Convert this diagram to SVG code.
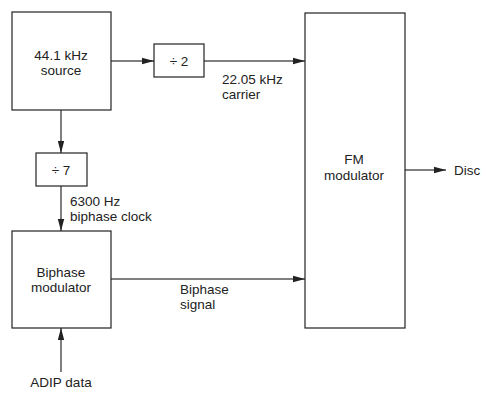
<svg xmlns="http://www.w3.org/2000/svg" width="486" height="400" viewBox="0 0 486 400">
<style>
.box{fill:#fff;stroke:#222;stroke-width:1.2}
.t{font-family:"Liberation Sans",Arial,sans-serif;font-size:13.5px;fill:#222}
.c{text-anchor:middle}
.ln{stroke:#555;stroke-width:1.5;fill:none;marker-end:url(#ah)}
</style>
<defs>
<marker id="ah" markerWidth="12" markerHeight="8" refX="12" refY="4" orient="auto" markerUnits="userSpaceOnUse">
<path d="M0,0.8 L12,4 L0,7.2 z" fill="#222"/>
</marker>
</defs>
<rect width="486" height="400" fill="#fff"/>
<g id="connectors">
<line class="ln" x1="111" y1="61" x2="154" y2="61"/>
<line class="ln" x1="204" y1="61" x2="305" y2="61"/>
<line class="ln" x1="61" y1="110" x2="61" y2="153"/>
<line class="ln" x1="61" y1="186" x2="61" y2="231"/>
<line class="ln" x1="111" y1="279" x2="305" y2="279"/>
<line class="ln" x1="61" y1="372" x2="61" y2="328"/>
<line class="ln" x1="405" y1="170" x2="446" y2="170"/>
</g>
<g id="source">
<rect class="box" x="12" y="12" width="99" height="98"/>
<text class="t c" x="61" y="60">44.1 kHz</text>
<text class="t c" x="61" y="75">source</text>
</g>
<g id="div2">
<rect class="box" x="154" y="44" width="50" height="33"/>
<text class="t c" x="179" y="66">÷ 2</text>
</g>
<g id="div7">
<rect class="box" x="36" y="153" width="51" height="33"/>
<text class="t c" x="61" y="175">÷ 7</text>
</g>
<g id="biphase">
<rect class="box" x="12" y="231" width="99" height="97"/>
<text class="t c" x="61" y="277">Biphase</text>
<text class="t c" x="61" y="292">modulator</text>
</g>
<g id="fm">
<rect class="box" x="305" y="13" width="100" height="315"/>
<text class="t c" x="354" y="164">FM</text>
<text class="t c" x="354" y="180">modulator</text>
</g>
<g id="labels">
<text class="t" x="222" y="84">22.05 kHz</text>
<text class="t" x="222" y="99">carrier</text>
<text class="t" x="70" y="206">6300 Hz</text>
<text class="t" x="70" y="221">biphase clock</text>
<text class="t" x="180" y="294">Biphase</text>
<text class="t" x="180" y="309">signal</text>
<text class="t c" x="61" y="387">ADIP data</text>
<text class="t" x="454" y="175">Disc</text>
</g>
</svg>
